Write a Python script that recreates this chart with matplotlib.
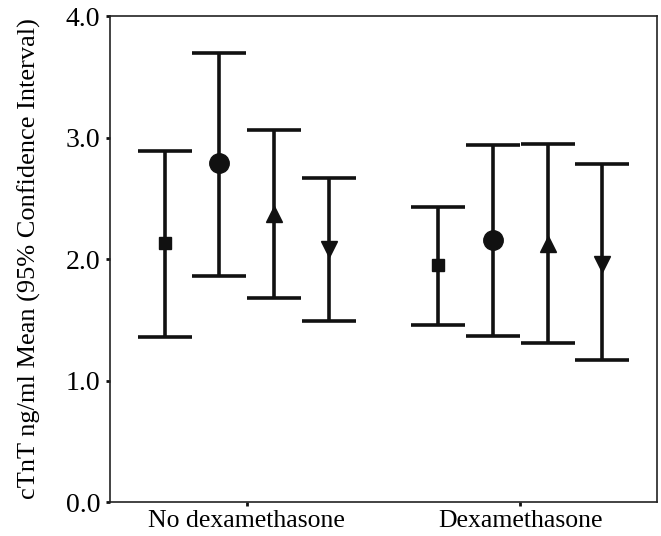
import matplotlib.pyplot as plt

groups = ["No dexamethasone", "Dexamethasone"]
markers = ["s", "o", "^", "v"]
offsets = [-0.3, -0.1, 0.1, 0.3]

# mean, lower and upper 95% CI per series, one value per group
means = [[2.13, 1.95], [2.79, 2.16], [2.37, 2.12], [2.08, 1.96]]
lower = [[1.36, 1.46], [1.86, 1.37], [1.68, 1.31], [1.49, 1.17]]
upper = [[2.89, 2.43], [3.70, 2.94], [3.06, 2.95], [2.67, 2.78]]
msizes = [9, 14, 12, 12]

plt.rcParams['font.family'] = ['Liberation Serif', 'DejaVu Serif']

fig = plt.figure(figsize=(6.61, 5.36), dpi=100)
ax = fig.add_axes([0.1664, 0.0634, 0.8276, 0.9066])

for i in range(4):
    xs = [g + offsets[i] for g in range(len(groups))]
    yerr = [[m - l for m, l in zip(means[i], lower[i])],
            [u - m for m, u in zip(means[i], upper[i])]]
    ax.errorbar(xs, means[i], yerr=yerr, fmt=markers[i], color='#111111',
                ms=msizes[i], elinewidth=2.6, capsize=19.5, capthick=2.6)

ax.set_xlim(-0.5, 1.5)
ax.set_ylim(0, 4)
ax.set_yticks([0, 1, 2, 3, 4])
ax.set_yticklabels(["0.0", "1.0", "2.0", "3.0", "4.0"])
ax.set_xticks([0, 1])
ax.set_xticklabels(groups)
ax.tick_params(length=3, width=2, color='#111111', pad=4)
ax.tick_params(axis='y', labelsize=20)
ax.tick_params(axis='x', labelsize=18.5, pad=3)
ax.set_ylabel("cTnT ng/ml Mean (95% Confidence Interval)", fontsize=19, labelpad=18)
for s in ax.spines.values():
    s.set_linewidth(1.2)
    s.set_color('#222222')

fig.savefig("out.png", dpi=100)
